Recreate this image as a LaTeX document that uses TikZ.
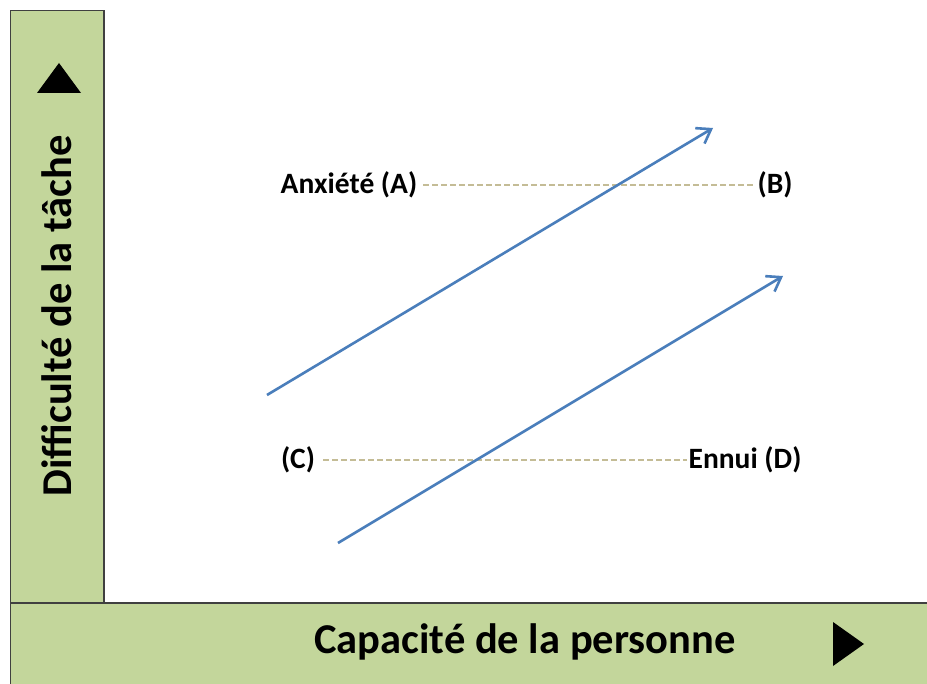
\documentclass[tikz,border=0pt]{standalone}
\usepackage{fontspec}
\setmainfont{Carlito}
\usetikzlibrary{arrows.meta}
\definecolor{barfill}{HTML}{C3D69B}
\definecolor{barline}{HTML}{404040}
\definecolor{arrowblue}{HTML}{4A7EBB}
\definecolor{dashtan}{HTML}{C4BC96}
\tikzset{
  bar/.style={fill=barfill, draw=barline, line width=1.5pt},
  lbl/.style={font=\fontsize{29.5}{34}\selectfont\bfseries, inner sep=1pt},
  axislbl/.style={font=\fontsize{42.5}{50}\selectfont\bfseries, inner sep=0pt},
  guide/.style={draw=dashtan, line width=1.7pt, dash pattern=on 6pt off 3pt},
  flow/.style={draw=arrowblue, line width=2.6pt, -{Straight Barb[length=13pt,width=18pt,line width=2.6pt]}},
  tri/.style={fill=black, draw=none}
}
\begin{document}
\begin{tikzpicture}[x=1pt,y=-1pt]
\useasboundingbox (0,0) rectangle (927,684);
% bars
\path[bar] (10.5,10.5) rectangle (104,603);
\path[bar] (10.5,603) rectangle (935,695);
% triangles
\path[tri] (37,93) -- (81,93) -- (59,63) -- cycle;
\path[tri] (833,622) -- (833,666) -- (864,644) -- cycle;
% axis labels
\node[axislbl, rotate=90] (ylab) at (57,316) {Difficulté de la tâche};
\node[axislbl] (xlab) at (525,642) {Capacité de la personne};
% point labels
\node[lbl] (A) at (349,185) {Anxiété (A)};
\node[lbl] (B) at (775,185) {(B)};
\node[lbl] (C) at (298,460) {(C)};
\node[lbl] (D) at (745,460) {Ennui (D)};
\draw[guide] ([xshift=5pt]A.east) -- (B.west);
\draw[guide] ([xshift=7pt]C.east) -- (D.west);
% arrows
\coordinate (s1) at (267,395);
\coordinate (e1) at (713,128);
\coordinate (s2) at (338,543);
\coordinate (e2) at (783,276);
\draw[flow] (s1) -- (e1);
\draw[flow] (s2) -- (e2);
\end{tikzpicture}
\end{document}
